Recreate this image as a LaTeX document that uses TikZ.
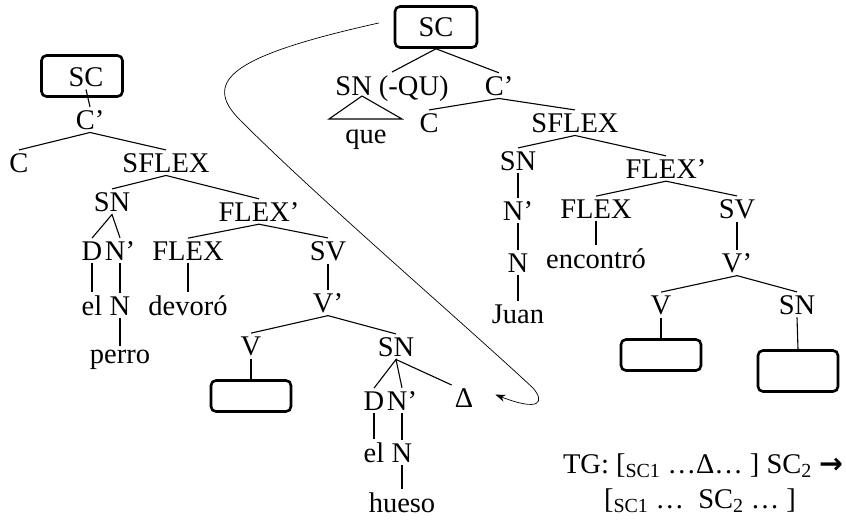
\documentclass[tikz,border=0pt]{standalone}
\usepackage{fontspec}
\setmainfont{Liberation Serif}
\newfontfamily\arrowfont{DejaVu Sans}
\usetikzlibrary{arrows.meta}

\begin{document}
\begin{tikzpicture}[x=1pt, y=-1pt,
  lab/.style={font=\fontsize{28.5}{33}\selectfont, inner sep=3pt, anchor=base},
  box/.style={rectangle, draw, rounded corners=5pt, line width=2.6pt, minimum width=80pt, minimum height=31pt},
  branch/.style={line width=1.1pt},
  arrow/.style={-{Stealth[length=10pt,width=7pt]}, line width=0.7pt}
]
  \useasboundingbox (0,0) rectangle (846,530);

  % left tree
  \node[box, minimum width=81pt, minimum height=41pt] (sclbox) at (82,76) {};
  \node[lab] (scl) at (86,86) {SC};
  \node[lab] (cpl) at (90,129) {C'};
  \node[lab] (cl) at (19,172) {C};
  \node[lab] (sflexl) at (166,172) {SFLEX};
  \node[lab] (snl) at (112,211) {SN};
  \node[lab] (flexpl) at (259,221) {FLEX'};
  \node[lab] (dl) at (92,260) {D};
  \node[lab] (npl) at (120,260) {N'};
  \node[lab] (flexl) at (188,260) {FLEX};
  \node[lab] (svl) at (328,260) {SV};
  \node[lab] (ell) at (92,315) {el};
  \node[lab] (nl) at (120,315) {N};
  \node[lab] (devoro) at (188,315) {devoró};
  \node[lab] (perro) at (120,363) {perro};
  \node[lab] (vpl) at (328,312) {V'};
  \node[lab] (vl) at (251,355) {V};
  \node[lab] (snobl) at (396,356) {SN};
  \node[box] (vboxl) at (251,396) {};
  \node[lab] (dobl) at (374,410) {D};
  \node[lab] (npobl) at (402,410) {N'};
  \node[lab] (delta) at (464,407) {Δ};
  \node[lab] (elobl) at (374,462) {el};
  \node[lab] (nobl) at (402,462) {N};
  \node[lab] (hueso) at (402,512) {hueso};

  \draw[branch] (scl.south) -- (cpl.north);
  \draw[branch] (cl.north) -- (cpl.south) -- (sflexl.north);
  \draw[branch] (snl.north) -- (sflexl.south) -- (flexpl.north);
  \draw[branch] (dl.north) -- (snl.south) -- (npl.north);
  \draw[branch] (flexl.north) -- (flexpl.south) -- (svl.north);
  \draw[branch] (dl.south) -- (ell.north);
  \draw[branch] (npl.south) -- (nl.north);
  \draw[branch] (nl.south) -- (perro.north);
  \draw[branch] (flexl.south) -- (devoro.north);
  \draw[branch] (svl.south) -- (vpl.north);
  \draw[branch] (vl.north) -- (vpl.south) -- (snobl.north);
  \draw[branch] (vl.south) -- (vboxl.north);
  \draw[branch] (dobl.north) -- (snobl.south) -- (npobl.north);
  \draw[branch] (snobl.south) -- (delta.north west);
  \draw[branch] (dobl.south) -- (elobl.north);
  \draw[branch] (npobl.south) -- (nobl.north);
  \draw[branch] (nobl.south) -- (hueso.north);

  % top tree
  \node[box, lab, anchor=center, minimum width=82pt, minimum height=41pt] (sct) at (436,27) {SC};
  \node[lab] (snqu) at (392,95) {SN (-QU)};
  \node[lab] (cpt) at (499,95) {C'};
  \node[lab] (ct) at (429,132) {C};
  \node[lab] (que) at (366,143) {que};
  \node[lab] (sflext) at (575,132) {SFLEX};
  \node[lab] (snt) at (518,170) {SN};
  \node[lab] (flexpt) at (666,178) {FLEX'};
  \node[lab] (npt) at (518,220) {N'};
  \node[lab] (flext) at (596,218) {FLEX};
  \node[lab] (svt) at (737,218) {SV};
  \node[lab] (nt) at (518,272) {N};
  \node[lab] (encontro) at (596,268) {encontró};
  \node[lab] (vpt) at (737,272) {V'};
  \node[lab] (juan) at (518,323) {Juan};
  \node[lab] (vt) at (661,314) {V};
  \node[lab] (snobt) at (797,314) {SN};
  \node[box] (vboxt) at (661,355) {};
  \node[box, minimum height=41pt] (snboxt) at (798,371) {};

  \draw[branch] (snqu.north) -- (sct.south) -- (cpt.north);
  \draw[branch] ([xshift=-30pt,yshift=-1pt]snqu.base) -- ++(-33,23) -- ++(73,0) -- cycle;
  \draw[branch] (ct.north) -- (cpt.south) -- (sflext.north);
  \draw[branch] (snt.north) -- (sflext.south) -- (flexpt.north);
  \draw[branch] (snt.south) -- (npt.north);
  \draw[branch] (npt.south) -- (nt.north);
  \draw[branch] (nt.south) -- (juan.north);
  \draw[branch] (flext.north) -- (flexpt.south) -- (svt.north);
  \draw[branch] (flext.south) -- (encontro.north);
  \draw[branch] (svt.south) -- (vpt.north);
  \draw[branch] (vt.north) -- (vpt.south) -- (snobt.north);
  \draw[branch] (vt.south) -- (vboxt.north);
  \draw[branch] (snobt.south) -- (snboxt.north);

  % movement
  \coordinate (mvfrom) at ([xshift=-15pt,yshift=4pt]sct.west);
  \coordinate (mvto) at ([xshift=19pt,yshift=3pt]delta.east);
  \draw[arrow] (mvfrom) .. controls (235,55) and (200,80) .. (240,120)
    .. controls (320,200) and (460,320) .. (533,388)
    .. controls (545,402) and (540,412) .. (mvto);

  % rule
  \node[lab] (tg1) at (703,473) {TG: [\textsubscript{SC1} …Δ… ] SC\textsubscript{2} {\arrowfont\bfseries →}};
  \node[lab] (tg2) at (700,508) {[\textsubscript{SC1} …\ \ SC\textsubscript{2} … ]};
\end{tikzpicture}
\end{document}
